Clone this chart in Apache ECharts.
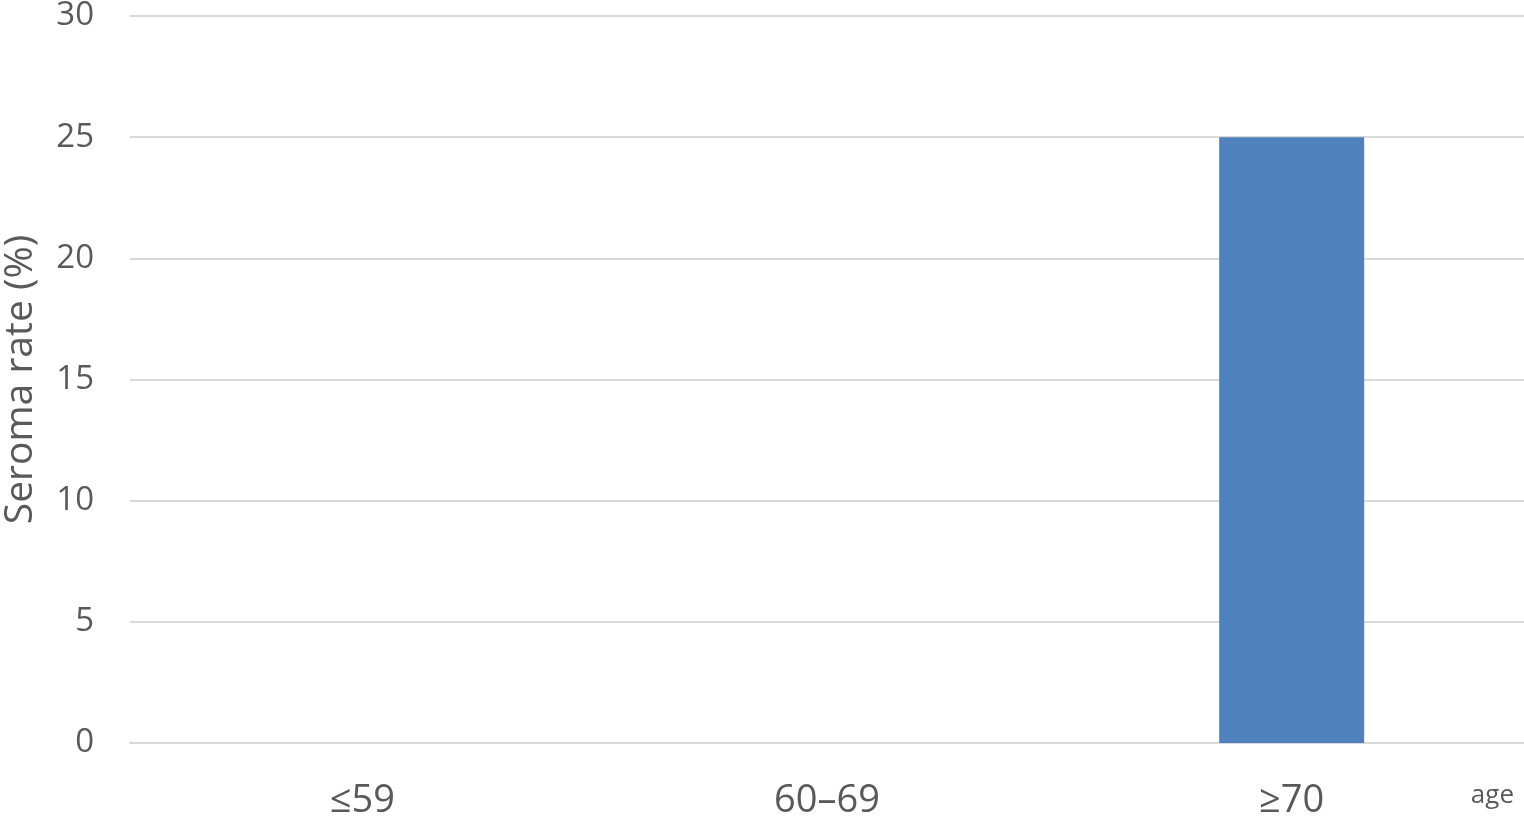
<!DOCTYPE html>
<html><head><meta charset="utf-8">
<script src="https://cdn.jsdelivr.net/npm/echarts@6/dist/echarts.min.js"></script>
<style>html,body{margin:0;padding:0;background:#fff}#c{width:1524px;height:818px}</style>
</head><body><div id="c"></div>
<script>
const categories = ['≤59', '60–69', '≥70'];
const seromaRate = [0, 0, 25];
const yTicks = [0, 5, 10, 15, 20, 25, 30];

const chart = echarts.init(document.getElementById('c'));
const font = 'Open Sans';
chart.setOption({
  animation: false,
  grid: { left: 130, right: 0, top: 16, bottom: 75, outerBoundsMode: 'none', containLabel: false },
  xAxis: {
    type: 'category',
    data: categories,
    axisLine: { show: true, lineStyle: { color: '#d9d9d9', width: 2 } },
    axisTick: { show: false },
    axisLabel: { color: '#595959', fontSize: 38, fontFamily: font, margin: 39 }
  },
  yAxis: {
    type: 'value',
    min: yTicks[0], max: yTicks[yTicks.length - 1], interval: 5,
    name: 'Seroma rate (%)',
    nameLocation: 'middle',
    nameGap: 90,
    nameRotate: 90,
    nameTextStyle: { color: '#595959', fontSize: 39, fontFamily: font },
    axisLine: { show: false },
    axisTick: { show: false },
    splitLine: { lineStyle: { color: '#d9d9d9', width: 2 } },
    axisLabel: { color: '#595959', fontSize: 33, fontFamily: font, margin: 36 }
  },
  graphic: [{
    type: 'text', right: 10, top: 783,
    style: { text: 'age', fill: '#595959', font: '26px "Open Sans"' }
  }],
  series: [{
    type: 'bar',
    data: seromaRate,
    barWidth: '31.2%',
    itemStyle: { color: '#4f81bd' }
  }]
});
</script></body></html>
